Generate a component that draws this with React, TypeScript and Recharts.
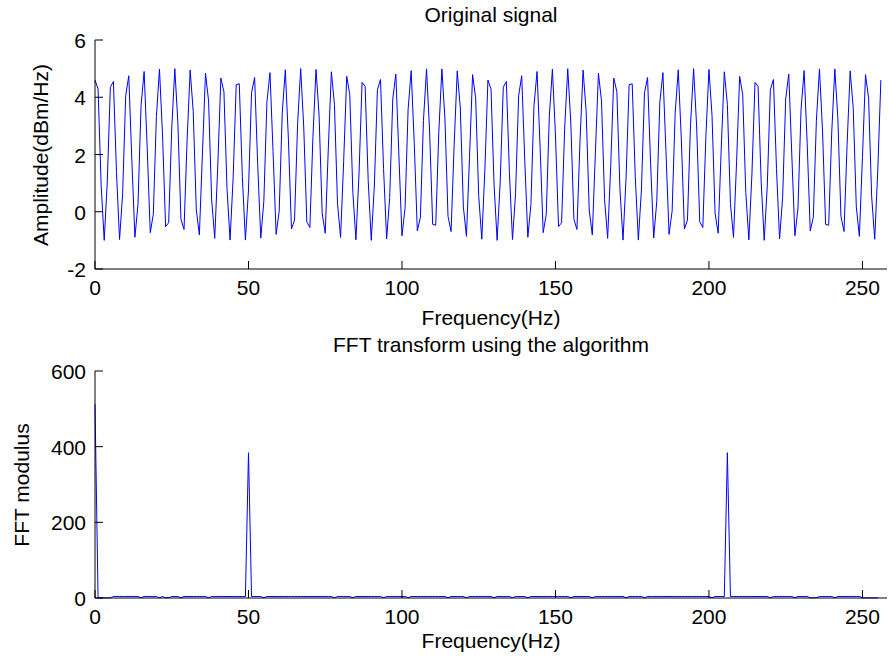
import { LineChart, Line, XAxis, YAxis } from "recharts";

// Original signal samples (t = 0 .. 256)
const signal = [
  4.60, 4.29, 0.94, -1.00, 1.04, 4.35, 4.55, 1.37, -0.97, 0.63,
  4.05, 4.75, 1.80, -0.89, 0.25, 3.71, 4.90, 2.25, -0.73, -0.09,
  3.33, 4.98, 2.68, -0.52, -0.38, 2.92, 5.00, 3.10, -0.26, -0.62,
  2.49, 4.95, 3.50, 0.06, -0.81, 2.05, 4.84, 3.87, 0.42, -0.93,
  1.61, 4.67, 4.19, 0.81, -0.99, 1.18, 4.44, 4.47, 1.22, -0.99,
  0.76, 4.16, 4.69, 1.66, -0.92, 0.37, 3.83, 4.86, 2.10, -0.79,
  0.02, 3.46, 4.96, 2.54, -0.60, -0.29, 3.06, 5.00, 2.96, -0.35,
  -0.55, 2.63, 4.97, 3.37, -0.05, -0.75, 2.20, 4.89, 3.75, 0.29,
  -0.90, 1.75, 4.73, 4.09, 0.67, -0.98, 1.32, 4.52, 4.38, 1.08,
  -1.00, 0.90, 4.26, 4.62, 1.51, -0.95, 0.50, 3.94, 4.81, 1.95,
  -0.84, 0.13, 3.58, 4.93, 2.39, -0.67, -0.19, 3.19, 4.99, 2.82,
  -0.44, -0.47, 2.78, 4.99, 3.24, -0.16, -0.69, 2.34, 4.92, 3.63,
  0.17, -0.86, 1.90, 4.79, 3.98, 0.54, -0.96, 1.46,
  4.60, 4.29, 0.94, -1.00, 1.04, 4.35, 4.55, 1.37, -0.97, 0.63,
  4.05, 4.75, 1.80, -0.89, 0.25, 3.71, 4.90, 2.25, -0.73, -0.09,
  3.33, 4.98, 2.68, -0.52, -0.38, 2.92, 5.00, 3.10, -0.26, -0.62,
  2.49, 4.95, 3.50, 0.06, -0.81, 2.05, 4.84, 3.87, 0.42, -0.93,
  1.61, 4.67, 4.19, 0.81, -0.99, 1.18, 4.44, 4.47, 1.22, -0.99,
  0.76, 4.16, 4.69, 1.66, -0.92, 0.37, 3.83, 4.86, 2.10, -0.79,
  0.02, 3.46, 4.96, 2.54, -0.60, -0.29, 3.06, 5.00, 2.96, -0.35,
  -0.55, 2.63, 4.97, 3.37, -0.05, -0.75, 2.20, 4.89, 3.75, 0.29,
  -0.90, 1.75, 4.73, 4.09, 0.67, -0.98, 1.32, 4.52, 4.38, 1.08,
  -1.00, 0.90, 4.26, 4.62, 1.51, -0.95, 0.50, 3.94, 4.81, 1.95,
  -0.84, 0.13, 3.58, 4.93, 2.39, -0.67, -0.19, 3.19, 4.99, 2.82,
  -0.44, -0.47, 2.78, 4.99, 3.24, -0.16, -0.69, 2.34, 4.92, 3.63,
  0.17, -0.86, 1.90, 4.79, 3.98, 0.54, -0.96, 1.46,
  4.60,
];

// FFT modulus per bin (0 .. 255)
const fftModulus = [
  512, 0.3, 0.3, 0.3, 0.3, 0.3, 4, 4, 4, 4, 4, 4, 4, 4, 4, 0.5,
  4, 4, 4, 4, 4, 0.5, 4, 0.5, 0.5, 4, 4, 4, 0.5, 4, 4, 4,
  4, 4, 4, 4, 4, 0.5, 4, 4, 4, 4, 4, 4, 4, 4, 4, 4,
  4, 4, 384, 4, 4, 4, 4, 0.5, 4, 4, 4, 4, 4, 4, 4, 4,
  4, 4, 4, 4, 4, 4, 4, 4, 4, 4, 4, 4, 4, 4, 0.5, 4,
  4, 4, 4, 4, 0.5, 4, 4, 4, 4, 4, 4, 4, 4, 4, 0.5, 4,
  4, 4, 4, 4, 4, 4, 0.5, 4, 4, 4, 4, 4, 4, 4, 4, 4,
  4, 4, 4, 0.5, 4, 4, 4, 4, 4, 0.5, 4, 4, 4, 4, 4, 4,
  4, 4, 0.5, 4, 4, 4, 4, 4, 0.5, 4, 4, 4, 4, 0.5, 4, 4,
  4, 4, 4, 4, 4, 4, 4, 4, 4, 4, 4, 0.5, 4, 4, 4, 4,
  4, 4, 0.5, 4, 4, 4, 4, 4, 4, 4, 4, 4, 4, 0.5, 4, 4,
  4, 4, 4, 0.5, 4, 4, 4, 4, 4, 4, 4, 4, 4, 4, 4, 4,
  4, 4, 4, 4, 4, 4, 4, 4, 4, 0.5, 4, 4, 4, 4, 384, 4,
  4, 4, 4, 4, 4, 4, 4, 4, 4, 4, 4, 4, 0.5, 4, 4, 4,
  4, 4, 4, 4, 0.5, 4, 4, 4, 4, 0.5, 0.5, 0.5, 4, 4, 4, 4,
  4, 0.5, 4, 4, 4, 4, 4, 4, 4, 4, 0.3, 0.3, 0.3, 0.3, 0.3, 0.3,
];

const freqTicks = [0, 50, 100, 150, 200, 250];
const ampTicks = [-2, 0, 2, 4, 6];
const fftTicks = [0, 200, 400, 600];

const signalData = signal.map((v, i) => ({ f: i, v }));
const fftData = fftModulus.map((v, i) => ({ f: i, v }));

const FONT = '"Liberation Sans", Arial, Helvetica, sans-serif';
const FS = 21;
const PLOT_LEFT = 95;
const BLUE = "#0000ff";

// matlab style: ticks point into the plot
const xTick = (axisY: number) => (props: any) => {
  const { x, payload } = props;
  return (
    <g>
      <line x1={x} x2={x} y1={axisY} y2={axisY - 8} stroke="#000" />
      <text x={x} y={axisY + 26} textAnchor="middle" fontSize={FS} fontFamily={FONT} fill="#000">
        {payload.value}
      </text>
    </g>
  );
};

const yTick = (props: any) => {
  const { y, payload } = props;
  return (
    <g>
      <line x1={PLOT_LEFT} x2={PLOT_LEFT + 8} y1={y} y2={y} stroke="#000" />
      <text x={86} y={y + 8} textAnchor="end" fontSize={FS} fontFamily={FONT} fill="#000">
        {payload.value}
      </text>
    </g>
  );
};

const labelStyle = { fontSize: FS, fontFamily: FONT, fill: "#000" };

export default function App() {
  return (
    <div style={{ position: "absolute", left: 0, top: 0, width: 888, height: 663, background: "#fff", overflow: "hidden" }}>
      <div style={{ position: "absolute", left: 0, top: 0 }}>
        <LineChart width={888} height={335} data={signalData} margin={{ top: 40, right: 1, bottom: 35, left: 0 }}>
          <XAxis
            dataKey="f"
            type="number"
            domain={[0, 258]}
            ticks={freqTicks}
            tick={xTick(269)}
            tickLine={false}
            axisLine={{ stroke: "#000" }}
            height={31}
          />
          <YAxis
            type="number"
            domain={[-2, 6]}
            ticks={ampTicks}
            tick={yTick}
            tickLine={false}
            axisLine={{ stroke: "#000" }}
            width={95}
          />
          <Line type="linear" dataKey="v" stroke={BLUE} strokeWidth={1} dot={false} isAnimationActive={false} />
        </LineChart>
      </div>
      <div style={{ position: "absolute", left: 0, top: 331 }}>
        <LineChart width={888} height={333} data={fftData} margin={{ top: 40, right: 1, bottom: 35, left: 0 }}>
          <XAxis
            dataKey="f"
            type="number"
            domain={[0, 258]}
            ticks={freqTicks}
            tick={xTick(267)}
            tickLine={false}
            axisLine={{ stroke: "#000" }}
            height={31}
          />
          <YAxis
            type="number"
            domain={[0, 600]}
            ticks={fftTicks}
            tick={yTick}
            tickLine={false}
            axisLine={{ stroke: "#000" }}
            width={95}
          />
          <Line type="linear" dataKey="v" stroke={BLUE} strokeWidth={1} dot={false} isAnimationActive={false} />
        </LineChart>
      </div>
      <svg width={888} height={663} style={{ position: "absolute", left: 0, top: 0, pointerEvents: "none" }}>
        <text x={491} y={22} textAnchor="middle" {...labelStyle}>Original signal</text>
        <text x={491} y={325} textAnchor="middle" {...labelStyle}>Frequency(Hz)</text>
        <text x={491} y={352} textAnchor="middle" {...labelStyle}>FFT transform using the algorithm</text>
        <text x={491} y={648} textAnchor="middle" {...labelStyle}>Frequency(Hz)</text>
        <text transform="translate(48,155) rotate(-90)" textAnchor="middle" {...labelStyle}>Amplitude(dBm/Hz)</text>
        <text transform="translate(29,485) rotate(-90)" textAnchor="middle" {...labelStyle}>FFT modulus</text>
      </svg>
    </div>
  );
}
